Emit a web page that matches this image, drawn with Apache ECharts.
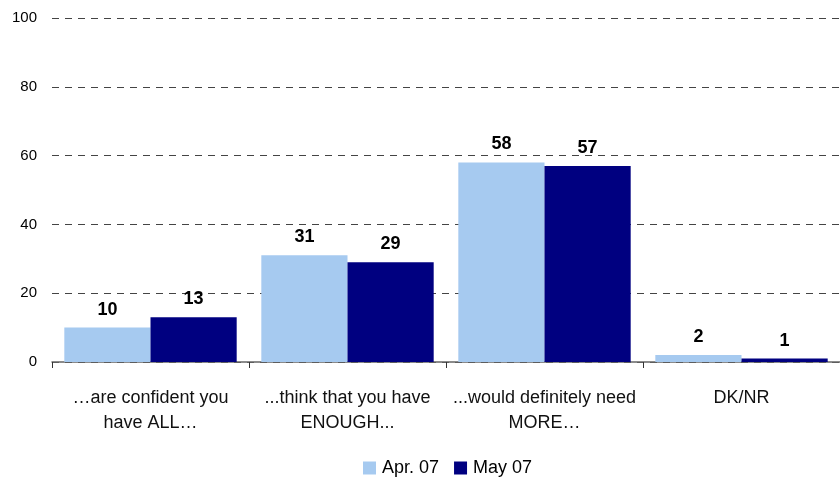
<!DOCTYPE html>
<html>
<head>
<meta charset="utf-8">
<script src="https://cdn.jsdelivr.net/npm/echarts@6/dist/echarts.min.js"></script>
<style>
  html, body { margin: 0; padding: 0; background: #fff; }
  #chart { width: 840px; height: 479px; }
</style>
</head>
<body>
<div id="chart"></div>
<script>
// Survey answers, two waves
const categories = [
  '…are confident you\nhave ALL…',
  '...think that you have\nENOUGH...',
  '...would definitely need\nMORE…',
  'DK/NR'
];
const seriesNames = ['Apr. 07', 'May 07'];
const aprValues = [10, 31, 58, 2];
const mayValues = [13, 29, 57, 1];
const yTicks = { min: 0, max: 100, interval: 20 };

const font = 'Liberation Sans, Arial, sans-serif';
const colors = ['#A6CAF0', '#000080'];

const valueLabel = {
  show: true,
  position: 'top',
  distance: 9,
  fontFamily: font,
  fontSize: 18,
  fontWeight: 'bold',
  color: '#000'
};

const chart = echarts.init(document.getElementById('chart'), null, { renderer: 'canvas' });
chart.setOption({
  animation: false,
  color: colors,
  grid: { left: 52, right: 0, top: 18, bottom: 117, containLabel: false },
  legend: {
    bottom: -3,
    left: 358,
    itemWidth: 13,
    itemHeight: 13,
    itemGap: 15,
    icon: 'rect',
    textStyle: { fontFamily: font, fontSize: 18, color: '#000', padding: [0, 0, 0, 1] },
    data: seriesNames
  },
  xAxis: {
    type: 'category',
    data: categories,
    axisLine: { lineStyle: { color: '#666', width: 1.5 } },
    axisTick: { show: true, length: 6, lineStyle: { color: '#333' } },
    axisLabel: {
      fontFamily: font,
      fontSize: 18,
      color: '#111',
      lineHeight: 25,
      margin: 24,
      interval: 0
    }
  },
  yAxis: {
    type: 'value',
    min: yTicks.min,
    max: yTicks.max,
    interval: yTicks.interval,
    axisLine: { show: false },
    axisTick: { show: false },
    axisLabel: { fontFamily: font, fontSize: 15, color: '#000', margin: 15 },
    splitLine: { lineStyle: { color: '#444', type: [7, 6], width: 1 } }
  },
  series: [
    {
      name: seriesNames[0],
      type: 'bar',
      data: aprValues,
      barGap: '0%',
      barCategoryGap: '12.5%',
      label: valueLabel
    },
    {
      name: seriesNames[1],
      type: 'bar',
      data: mayValues,
      barGap: '0%',
      barCategoryGap: '12.5%',
      label: valueLabel
    }
  ]
});
</script>
</body>
</html>
